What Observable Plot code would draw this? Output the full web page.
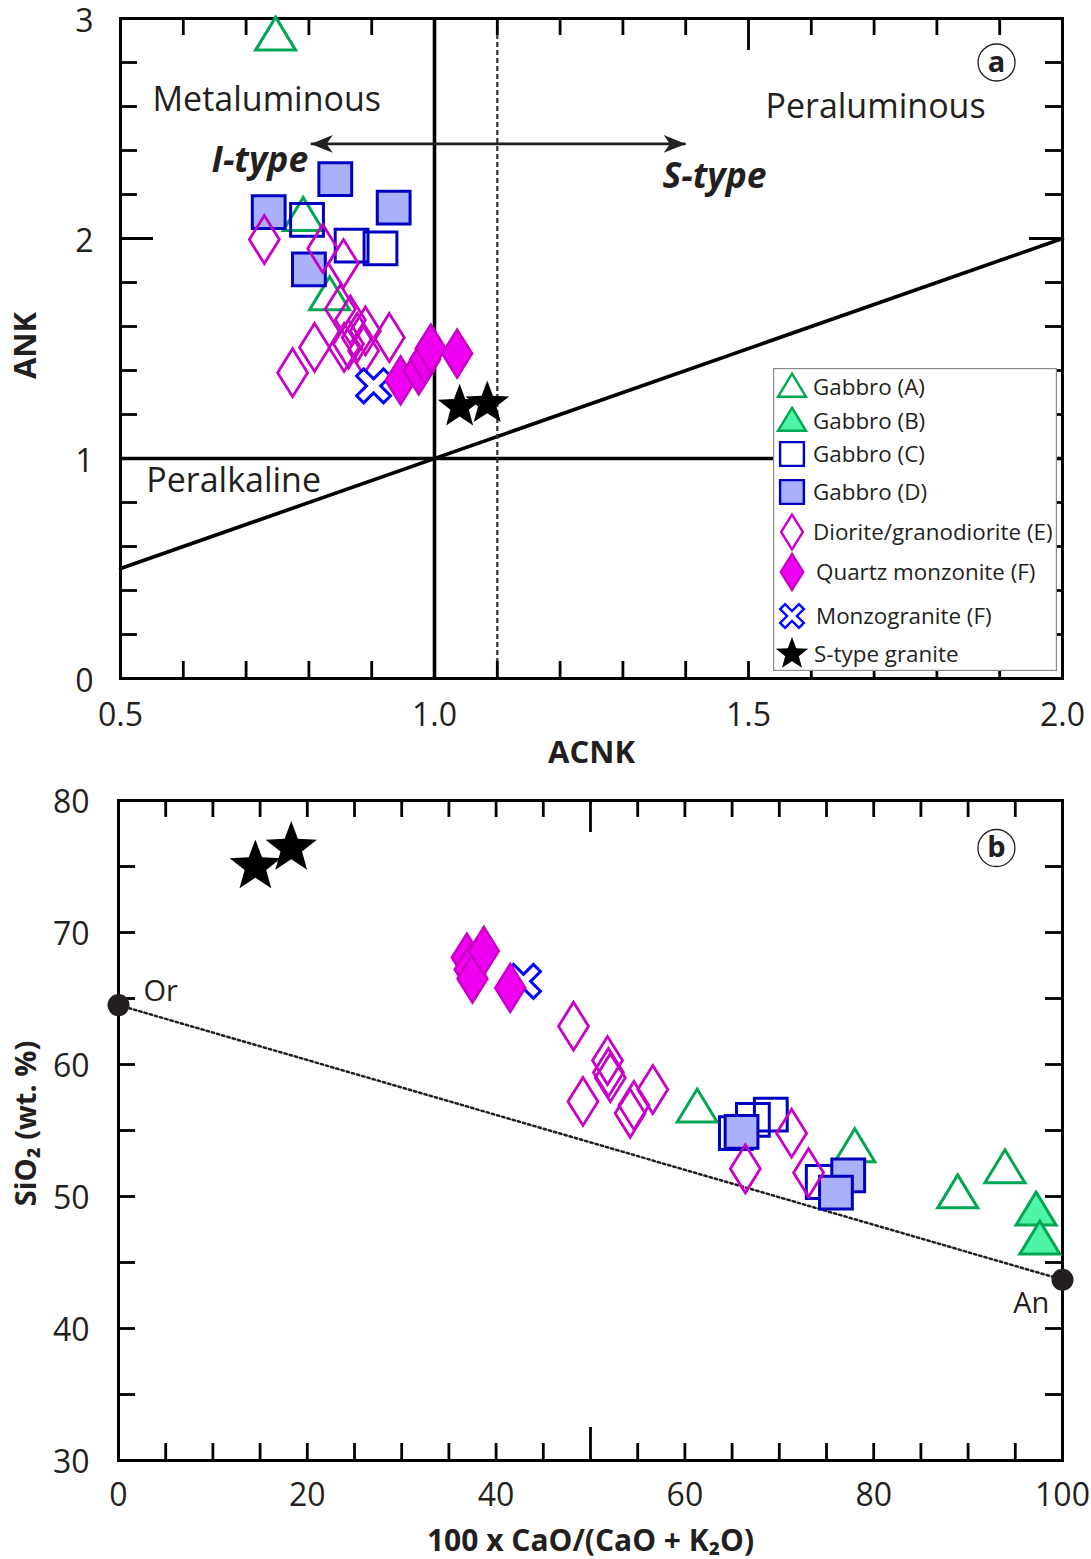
<!DOCTYPE html>
<html><head><meta charset="utf-8">
<script src="https://cdn.jsdelivr.net/npm/d3@7"></script>
<script src="https://cdn.jsdelivr.net/npm/@observablehq/plot@0.6"></script>
<style>
body{margin:0;background:#fff;}
#wrap{position:relative;width:1091px;height:1559px;overflow:hidden;}
#wrap svg{display:block;}
#legend{position:absolute;left:773px;top:368px;}
</style></head><body><div id="wrap"></div>
<script>
// ---------- DATA : panel (a) ACNK vs ANK ----------
const aGabbroA = [[0.747,2.92],[0.791,2.10],[0.833,1.74]];
const aGabbroC = [[0.797,2.085],[0.868,1.968],[0.914,1.955]];
const aGabbroD = [[0.736,2.12],[0.842,2.27],[0.935,2.14],[0.800,1.86]];
const aDiorite = [[0.729,1.995],[0.822,1.955],[0.855,1.886],[0.850,1.68],[0.866,1.63],[0.890,1.58],[0.809,1.505],[0.774,1.39],[0.856,1.505],[0.863,1.52],[0.877,1.55],[0.928,1.55],[0.887,1.49]];
const aQuartz  = [[0.946,1.355],[0.975,1.40],[0.985,1.45],[0.994,1.50],[1.036,1.477]];
const aMonzo   = [[0.903,1.33]];
const aStype   = [[1.040,1.235],[1.084,1.25]];
// reference boundaries of the Shand diagram
const aBoundX = [1.0];          // ACNK = 1
const aBoundXdash = [1.1];      // I/S boundary
const aBoundY = [1.0];          // ANK = 1
const aDiagonal = [[0.5,0.5],[2.0,2.0]];
const aArrow = [{x1:0.803, x2:1.40, y:2.43}];
// ticks
const aXLabels = [0.5,1.0,1.5,2.0];
const aYLabels = [0,1,2,3];
const aXMinor = [0.6,0.7,0.8,0.9,1.1,1.2,1.3,1.4,1.6,1.7,1.8,1.9];
const aXMajor = [1.0,1.5];
const aYMinor = [0.2,0.4,0.6,0.8,1.2,1.4,1.6,1.8,2.2,2.4,2.6,2.8];
const aYMajor = [1,2];
const aNotes = [
  {text:"Metaluminous", x:0.551, y:2.627},
  {text:"Peraluminous", x:1.527, y:2.595},
  {text:"Peralkaline",  x:0.541, y:0.895}
];
const aTypes = [
  {text:"I-type", x:0.645, y:2.355},
  {text:"S-type", x:1.363, y:2.282}
];
const aTag = [{text:"a", x:1.895, y:2.80}];

// ---------- DATA : panel (b) 100CaO/(CaO+K2O) vs SiO2 ----------
const bStype   = [[14.5,75.0],[18.3,76.4]];
const bQuartz  = [[36.9,68.1],[37.2,67.2],[37.5,66.5],[38.7,68.6],[41.5,65.8]];
const bMonzo   = [[42.9,66.3]];
const bDiorite = [[48.2,62.9],[51.8,60.3],[51.9,59.4],[52.1,59.0],[49.2,57.2],[54.2,56.3],[54.6,56.9],[56.6,58.1],[66.4,52.1],[71.3,54.8],[73.1,51.8]];
const bGabbroA = [[61.3,56.7],[78.0,53.7],[88.9,50.2],[93.9,52.1]];
const bGabbroB = [[97.2,48.9],[97.6,46.7]];
const bGabbroC = [[69.1,56.2],[67.2,55.8],[65.4,54.8],[74.6,51.1]];
const bGabbroD = [[66.0,54.9],[77.3,51.6],[76.0,50.3]];
const bEnds    = [{name:"Or", x:0, y:64.5},{name:"An", x:100, y:43.7}];
const bOrLabel = [{text:"Or", x:2.65, y:65.5}];
const bAnLabel = [{text:"An", x:96.7, y:41.9}];
const bXLabels = [0,20,40,60,80,100];
const bYLabels = [30,40,50,60,70,80];
const bXMinor = [5,10,15,20,25,30,35,40,45,55,60,65,70,75,80,85,90,95];
const bXMajor = [50];
const bYMinor = [35,40,45,50,55,60,65,70,75];
const bTag = [{text:"b", x:93.0, y:76.4}];

const legendLabels = ["Gabbro (A)","Gabbro (B)","Gabbro (C)","Gabbro (D)","Diorite/granodiorite (E)","Quartz monzonite (F)","Monzogranite (F)","S-type granite"];

// ---------- STYLE ----------
const INK = "#231f20";
const FONT = "'Open Sans', 'Noto Sans', sans-serif";
const COL = {
  green:"#00a651", greenFill:"#4ef5a6",
  blue:"#0000c0", blueFill:"#abb0fb",
  mag:"#c800c8", magFill:"#f000f0",
  xblue:"#0000ff", star:"#000000"
};
const sym = f => ({draw(c, s){ const r = Math.sqrt(s/Math.PI); f(c, r); }});
const TRI = sym((c,r)=>{c.moveTo(0,-0.95*r); c.lineTo(r,0.7*r); c.lineTo(-r,0.7*r); c.closePath();});
const SQ  = sym((c,r)=>{const h=0.82*r; c.moveTo(-h,-h); c.lineTo(h,-h); c.lineTo(h,h); c.lineTo(-h,h); c.closePath();});
const DIA = sym((c,r)=>{c.moveTo(0,-1.2*r); c.lineTo(0.75*r,0); c.lineTo(0,1.2*r); c.lineTo(-0.75*r,0); c.closePath();});
const STAR= sym((c,r)=>{for(let i=0;i<10;i++){const a=-Math.PI/2+i*Math.PI/5, rr=i%2?0.42*r:r, x=rr*Math.cos(a), y=rr*Math.sin(a); i?c.lineTo(x,y):c.moveTo(x,y);} c.closePath();});
const XS  = sym((c,r)=>{const t=0.25*r, a=0.95*r, k=Math.SQRT1_2;
  [[t,a],[t,t],[a,t],[a,-t],[t,-t],[t,-a],[-t,-a],[-t,-t],[-a,-t],[-a,t],[-t,t],[-t,a]].forEach(([x,y],i)=>{const X=(x-y)*k, Y=(x+y)*k; i?c.lineTo(X,Y):c.moveTo(X,Y);}); c.closePath();});
const HEAD= sym((c,r)=>{c.moveTo(0,0); c.lineTo(-r,-0.4*r); c.lineTo(-0.72*r,0); c.lineTo(-r,0.4*r); c.closePath();});

const STY = {
  gA:{symbol:TRI, fill:"none", stroke:COL.green, sw:3},
  gB:{symbol:TRI, fill:COL.greenFill, stroke:COL.green, sw:3},
  gC:{symbol:SQ, fill:"none", stroke:COL.blue, sw:3},
  gD:{symbol:SQ, fill:COL.blueFill, stroke:COL.blue, sw:3},
  dE:{symbol:DIA, fill:"none", stroke:COL.mag, sw:2.8},
  qF:{symbol:DIA, fill:COL.magFill, stroke:COL.mag, sw:2.5},
  mF:{symbol:XS, fill:"white", stroke:COL.xblue, sw:3},
  sT:{symbol:STAR, fill:COL.star, stroke:"none", sw:0}
};
const pts = (data, s, r) => Plot.dot(data, {x:d=>d[0], y:d=>d[1], symbol:s.symbol, fill:s.fill, stroke:s.stroke, strokeWidth:s.sw, r});

// tick helpers (pixel lengths via insets)
function frameTicks(W, H, xMinor, xMajor, yMinor, yMajor, lenMin, lenTopMaj, lenBotMaj, lenSideMaj){
  const sw = 2.8, st = "#000";
  return [
    Plot.tickX(xMinor, {x:d=>d, insetTop:H-lenMin, stroke:st, strokeWidth:sw}),
    Plot.tickX(xMajor, {x:d=>d, insetTop:H-lenBotMaj, stroke:st, strokeWidth:sw}),
    Plot.tickX(xMinor, {x:d=>d, insetBottom:H-lenMin, stroke:st, strokeWidth:sw}),
    Plot.tickX(xMajor, {x:d=>d, insetBottom:H-lenTopMaj, stroke:st, strokeWidth:sw}),
    Plot.tickY(yMinor, {y:d=>d, insetRight:W-lenMin, stroke:st, strokeWidth:sw}),
    Plot.tickY(yMajor, {y:d=>d, insetRight:W-lenSideMaj, stroke:st, strokeWidth:sw}),
    Plot.tickY(yMinor, {y:d=>d, insetLeft:W-lenMin, stroke:st, strokeWidth:sw}),
    Plot.tickY(yMajor, {y:d=>d, insetLeft:W-lenSideMaj, stroke:st, strokeWidth:sw})
  ];
}
const baseStyle = {fontFamily:FONT, color:INK, background:"transparent", overflow:"visible"};

// ---------- PANEL A ----------
const R = 20;
const plotA = Plot.plot({
  width:1091, height:780,
  marginLeft:120, marginRight:29, marginTop:18, marginBottom:102,
  x:{domain:[0.5,2.0]}, y:{domain:[0,3]},
  style:baseStyle,
  marks:[
    Plot.line(aDiagonal, {x:d=>d[0], y:d=>d[1], stroke:"#000", strokeWidth:3.6}),
    Plot.ruleY(aBoundY, {stroke:"#000", strokeWidth:3.3}),
    Plot.ruleX(aBoundXdash, {stroke:"#333", strokeWidth:2.2, strokeDasharray:"5,3"}),
    Plot.ruleX(aBoundX, {stroke:"#000", strokeWidth:3.6}),
    ...frameTicks(942, 660, aXMinor, aXMajor, aYMinor, aYMajor, 17, 32, 17, 33),
    Plot.frame({stroke:"#000", strokeWidth:3}),
    Plot.axisX(aXLabels, {tickSize:0, tickPadding:25, fontSize:32, tickFormat:d=>d.toFixed(1), label:null}),
    Plot.axisY(aYLabels, {tickSize:0, tickPadding:27, fontSize:32, dy:3, tickFormat:d=>String(d), label:null}),
    Plot.text(["ACNK"], {frameAnchor:"bottom", dy:75, lineAnchor:"middle", textAnchor:"middle", fontSize:31, fontWeight:"bold", fill:INK}),
    Plot.text(["ANK"], {frameAnchor:"left", dx:-94, dy:-3, rotate:-90, textAnchor:"middle", lineAnchor:"middle", fontSize:31, fontWeight:"bold", fill:INK}),
    Plot.text(aNotes, {x:"x", y:"y", text:"text", textAnchor:"start", fontSize:34, fill:INK}),
    Plot.text(aTypes, {x:"x", y:"y", text:"text", textAnchor:"start", fontSize:35.5, fontWeight:"bold", fontStyle:"italic", fill:INK}),
    Plot.link(aArrow, {x1:"x1", x2:"x2", y1:"y", y2:"y", stroke:INK, strokeWidth:2.6}),
    Plot.dot(aArrow, {x:"x2", y:"y", symbol:HEAD, r:22, fill:INK, stroke:"none"}),
    Plot.dot(aArrow, {x:"x1", y:"y", symbol:HEAD, r:22, fill:INK, stroke:"none", rotate:180}),
    Plot.dot(aTag, {x:"x", y:"y", r:18.5, fill:"white", stroke:INK, strokeWidth:1.3}),
    Plot.text(aTag, {x:"x", y:"y", text:"text", fontSize:29, fontWeight:"bold", fill:INK}),
    pts(aGabbroA, STY.gA, R),
    pts(aGabbroC, STY.gC, R),
    pts(aGabbroD, STY.gD, R),
    pts(aDiorite, STY.dE, R),
    pts(aMonzo, STY.mF, R),
    pts(aQuartz, STY.qF, R),
    pts(aStype, STY.sT, 23)
  ]
});

// ---------- PANEL B ----------
const plotB = Plot.plot({
  width:1091, height:779,
  marginLeft:118, marginRight:29, marginTop:20, marginBottom:99,
  x:{domain:[0,100]}, y:{domain:[30,80]},
  style:baseStyle,
  marks:[
    ...frameTicks(944, 660, bXMinor, bXMajor, bYMinor, [], 17, 32, 33, 17),
    Plot.frame({stroke:"#000", strokeWidth:3}),
    Plot.axisX(bXLabels, {tickSize:0, tickPadding:23, fontSize:32, label:null}),
    Plot.axisY(bYLabels, {tickSize:0, tickPadding:29, fontSize:32, dy:2, label:null}),
    Plot.text(["100 x CaO/(CaO + K₂O)"], {frameAnchor:"bottom", dy:81, lineAnchor:"middle", textAnchor:"middle", fontSize:30, fontWeight:"bold", fill:INK}),
    Plot.text(["SiO₂ (wt. %)"], {frameAnchor:"left", dx:-92, dy:-7, rotate:-90, textAnchor:"middle", lineAnchor:"middle", fontSize:29, fontWeight:"bold", fill:INK}),
    Plot.line(bEnds, {x:"x", y:"y", stroke:INK, strokeWidth:2.5, strokeDasharray:"2.4,3"}),
    Plot.dot(bEnds, {x:"x", y:"y", r:11, fill:INK}),
    Plot.text(bOrLabel, {x:"x", y:"y", text:"text", textAnchor:"start", fontSize:29, fill:INK}),
    Plot.text(bAnLabel, {x:"x", y:"y", text:"text", textAnchor:"middle", fontSize:29, fill:INK}),
    Plot.dot(bTag, {x:"x", y:"y", r:18.5, fill:"white", stroke:INK, strokeWidth:1.3}),
    Plot.text(bTag, {x:"x", y:"y", text:"text", fontSize:29, fontWeight:"bold", fill:INK}),
    pts(bGabbroA, STY.gA, R),
    pts(bGabbroB, STY.gB, R),
    pts(bGabbroC, STY.gC, R),
    pts(bGabbroD, STY.gD, R),
    pts(bDiorite, STY.dE, R),
    pts(bMonzo, STY.mF, R),
    pts(bQuartz, STY.qF, R),
    pts(bStype, STY.sT, 27)
  ]
});

const wrap = document.getElementById("wrap");
wrap.appendChild(plotA);
wrap.appendChild(plotB);

// ---------- LEGEND (inside panel a) ----------
const legendKeys = ["gA","gB","gC","gD","dE","qF","mF","sT"];
const legendRowY = [19,53,86,124,164,204,248,286];
const legendSymR = [14,14,14.5,14.5,14.5,15,14,17];
const legendTextX = [40,40,40,40,40,43,43,41];
const lg = d3.select(wrap).append("svg").attr("id","legend")
  .attr("width",284).attr("height",303)
  .style("font-family",FONT);
lg.append("rect").attr("x",0.6).attr("y",0.6).attr("width",282.8).attr("height",301.8)
  .attr("fill","white").attr("stroke","#8a8a8a").attr("stroke-width",1.2);
legendLabels.forEach((lab,i)=>{
  const s = STY[legendKeys[i]];
  const p = d3.path(); const r = legendSymR[i];
  s.symbol.draw(p, Math.PI*r*r);
  lg.append("path").attr("d",p.toString())
    .attr("transform",`translate(19,${legendRowY[i]})`)
    .attr("fill",s.fill).attr("stroke",s.stroke==="none"?null:s.stroke)
    .attr("stroke-width",Math.min(s.sw,2.4));
  lg.append("text").attr("x",legendTextX[i]).attr("y",legendRowY[i])
    .attr("dy","0.35em").attr("font-size",22.4).attr("fill",INK).text(lab);
});
</script>
</body></html>
